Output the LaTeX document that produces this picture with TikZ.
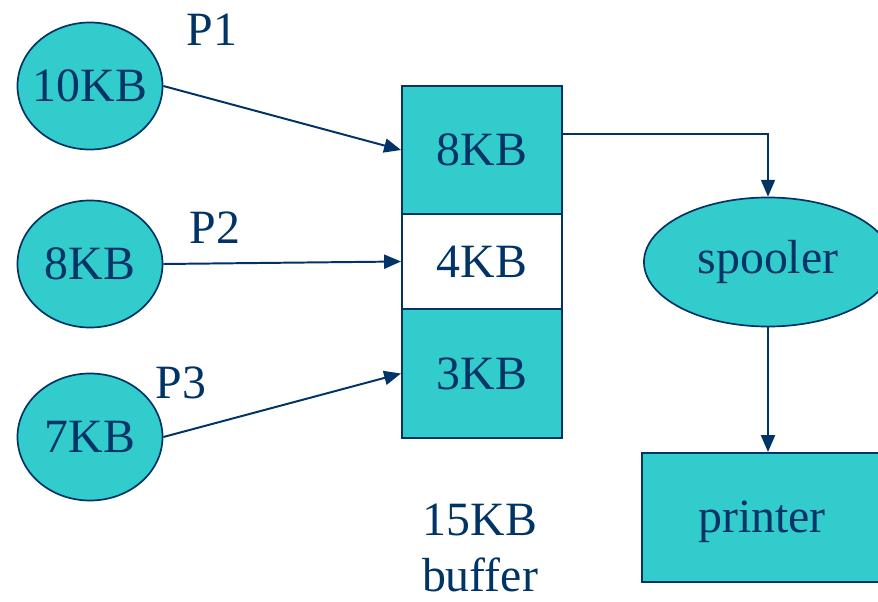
\documentclass[tikz,border=0pt]{standalone}
\usepackage{fontspec}
\setmainfont{Liberation Serif}
\usetikzlibrary{arrows.meta}
\usetikzlibrary{shapes.geometric}
\usetikzlibrary{calc}

\definecolor{navy}{HTML}{003366}
\definecolor{teal}{HTML}{33CCCC}

\tikzset{
    proc/.style={ellipse, draw=navy, fill=teal, line width=1.2pt, inner sep=0pt,
        minimum width=3.625cm, minimum height=3.175cm},
    slot/.style={rectangle, draw=navy, line width=1.4pt, minimum width=4cm, inner sep=0pt},
    link/.style={draw=navy, line width=1.4pt, -{Triangle[length=12pt, width=10pt]}},
    lbl/.style={text=navy, inner sep=0pt}
}

\begin{document}
\begin{tikzpicture}[x=0.025cm, y=-0.025cm, font=\fontsize{34}{40}\selectfont, text=navy]
    \useasboundingbox (0,0) rectangle (878,602);
    \clip (0,0) rectangle (878,602);

    % processes
    \node[proc, label={center:10KB}] (e1) at (90,86) {};
    \node[proc, label={center:8KB}] (e2) at (90,264) {};
    \node[proc, label={center:7KB}] (e3) at (90,437) {};

    \node[lbl] (p1) at (212,30) {P1};
    \node[lbl] (p2) at (215,228) {P2};
    \node[lbl] (p3) at (181,383) {P3};

    % buffer
    \node[slot, fill=teal, minimum height=3.2cm] (b8) at (482,150) {8KB};
    \node[slot, fill=white, minimum height=2.375cm] (b4) at (482,261.5) {4KB};
    \node[slot, fill=teal, minimum height=3.225cm] (b3) at (482,373.5) {3KB};

    \node[lbl, align=center] (buf) at (480,548) {15KB\\buffer};

    % spooler and printer
    \node[proc, minimum width=6.2cm, minimum height=3.225cm, label={center:spooler}] (sp) at (768,262) {};
    \node[slot, fill=teal, minimum width=6cm, minimum height=3.225cm] (pr) at (762,517.5) {};
    \node[lbl] (prt) at (762,522) {printer};

    \draw[link] (e1.east) -- (b8.west);
    \draw[link] (e2.east) -- (b4.west);
    \draw[link] (e3.east) -- (b3.west);
    \draw[link] ([yshift=0.4cm]b8.east) -| (sp.north);
    \draw[link] (sp.south) -- (sp.south |- pr.north);
\end{tikzpicture}
\end{document}
